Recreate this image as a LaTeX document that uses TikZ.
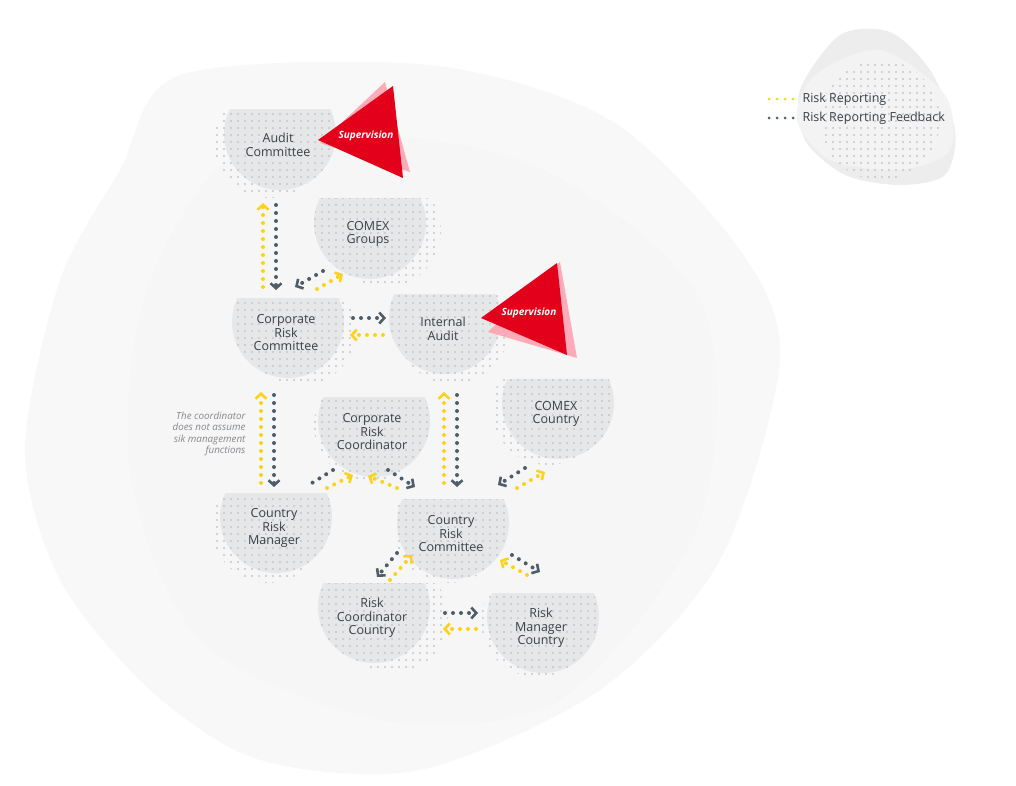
\documentclass[tikz,border=0pt]{standalone}
\usepackage{fontspec}
\setmainfont{Open Sans}
\usetikzlibrary{calc,arrows.meta,patterns.meta}

\definecolor{unitgray}{HTML}{E6E7E9}
\definecolor{dotgray}{HTML}{C4C7CB}
\definecolor{blobgray}{HTML}{F8F8F9}
\definecolor{blobgraydark}{HTML}{F3F3F4}
\definecolor{legendgray}{HTML}{EDEDEE}
\definecolor{repyellow}{HTML}{FFD21A}
\definecolor{feedgray}{HTML}{4E5D69}
\definecolor{textgray}{HTML}{3A4046}
\definecolor{notegray}{HTML}{84878A}
\definecolor{supred}{HTML}{E2001A}
\definecolor{suppink}{HTML}{FF9FAD}

% Risk unit: name, centre, shift of the dots, text
\newcommand{\riskunit}[4]{%
  \begin{scope}
    \clip ($(#2)+(-90,-24)$) rectangle ($(#2)+(90,90)$);
    \fill[dots] ($(#2)+(#3)$) circle (56);
    \fill[unitgray] (#2) circle (56);
    \fill[dots] (#2) circle (56);
  \end{scope}
  \node[unit] (#1) at (#2) {};
  \node[unittext] (#1-text) at ($(#1)+(-2,11)$) {#4};
}

\begin{document}
\begin{tikzpicture}[
x=1pt,y=-1pt,
dots/.style={pattern={Dots[distance=7pt,radius=1.2pt]},pattern color=dotgray},
unit/.style={circle,minimum size=112pt,inner sep=0pt},
unittext/.style={align=center,text=textgray,font=\fontsize{12.5}{13.5}\selectfont},
suptext/.style={text=white,font=\fontsize{10}{12}\selectfont\bfseries\itshape},
legendtext/.style={anchor=west,text=textgray,font=\fontsize{12.5}{14}\selectfont},
note/.style={anchor=east,align=right,text=notegray,font=\fontsize{9.8}{11.2}\selectfont\itshape},
rep/.style={draw=repyellow,line width=4pt,line cap=round,dash pattern=on 0pt off 8pt,-{Straight Barb[length=5pt,width=11pt,line width=2.6pt]}},
feed/.style={rep,draw=feedgray}
]

\useasboundingbox (0,0) rectangle (1016,786);

% Background blobs
\fill[blobgray] plot[smooth cycle] coordinates {(180,75) (430,65) (610,120) (740,250) (780,360) (720,560) (600,690) (420,770) (260,760) (150,690) (60,580) (25,450) (60,280) (120,170)};
\fill[blobgraydark,opacity=0.4] plot[smooth cycle] coordinates {(260,140) (520,160) (700,300) (700,520) (560,700) (380,720) (200,640) (130,470) (150,280)};
\fill[legendgray] plot[smooth cycle] coordinates {(840,35) (890,32) (930,70) (955,130) (945,175) (900,185) (845,175) (805,140) (800,90)};
\fill[blobgraydark] plot[smooth cycle] coordinates {(815,75) (880,50) (945,95) (950,150) (900,170) (830,160) (797,120)};
\begin{scope}
  \clip plot[smooth cycle] coordinates {(840,35) (890,32) (930,70) (955,130) (945,175) (900,185) (845,175) (805,140) (800,90)};
  \fill[dots] (880,120) circle (60);
\end{scope}

% Draw units
\riskunit{ac}{280,134}{-10,8}{Audit\\Committee}
\riskunit{cg}{370,223}{15,8}{COMEX\\Groups}
\riskunit{crc}{288,322}{12,8}{Corporate\\Risk\\Committee}
\riskunit{ia}{445,318}{8,10}{Internal\\Audit}
\riskunit{crco}{374,421}{-4,4}{Corporate\\Risk\\Coordinator}
\riskunit{cc}{558,403}{-10,6}{COMEX\\Country}
\riskunit{crm}{276,517}{-8,10}{Country\\Risk\\Manager}
\riskunit{crcm}{453,523}{-4,4}{Country\\Risk\\Committee}
\riskunit{rcc}{374,607}{18,10}{Risk\\Coordinator\\Country}
\riskunit{rmc}{543,617}{-6,4}{Risk\\Manager\\Country}

% Supervision
\fill[suppink,opacity=0.85] (320,143) -- (385,82) -- (410,172) -- cycle;
\fill[supred] (318,140) -- (393,86) -- (403,178) -- cycle;
\node[suptext] (sup-ac) at (366,136) {Supervision};
\fill[suppink,opacity=0.85] (488,332) -- (560,262) -- (577,358) -- cycle;
\fill[supred] (481,318) -- (557,263) -- (567,355) -- cycle;
\node[suptext] (sup-ia) at (529,313) {Supervision};

% Draw connectors
\draw[rep] ($(crc)+(-25,-35)$) -- ($(ac)+(-17,69)$);
\draw[feed] ($(ac)+(-4,71)$) -- ($(crc)+(-12,-32)$);

\draw[feed] ($(cg)+(-47,48)$) -- ($(crc)+(7,-35)$);
\draw[rep] ($(crc)+(29,-33)$) -- ($(cg)+(-27,51)$);

\draw[feed] ($(crc)+(65,-4)$) -- ($(ia)+(-59,0)$);
\draw[rep] ($(ia)+(-62,17)$) -- ($(crc)+(62,13)$);

\draw[rep] ($(crm)+(-15,-34)$) -- ($(crc)+(-27,70)$);
\draw[feed] ($(crc)+(-14,73)$) -- ($(crm)+(-2,-30)$);

\draw[rep] ($(crcm)+(-9,-40)$) -- ($(ia)+(-1,74)$);
\draw[feed] ($(ia)+(12,77)$) -- ($(crcm)+(4,-36)$);

\draw[feed,-] ($(crco)+(-41,49)$) -- ($(crm)+(36,-34)$);
\draw[rep] ($(crm)+(51,-29)$) -- ($(crco)+(-21,54)$);

\draw[rep] ($(crcm)+(-56,-35)$) -- ($(crco)+(-6,55)$);
\draw[feed] ($(crco)+(14,49)$) -- ($(crcm)+(-38,-36)$);

\draw[feed] ($(cc)+(-33,65)$) -- ($(crcm)+(45,-38)$);
\draw[rep] ($(crcm)+(64,-35)$) -- ($(cc)+(-13,69)$);

\draw[feed] ($(crcm)+(-56,30)$) -- ($(rcc)+(3,-30)$);
\draw[rep] ($(rcc)+(16,-27)$) -- ($(crcm)+(-41,32)$);

\draw[feed] ($(crcm)+(59,32)$) -- ($(rmc)+(-3,-45)$);
\draw[rep] ($(rmc)+(-16,-42)$) -- ($(crcm)+(47,37)$);

\draw[feed] ($(rcc)+(71,6)$) -- ($(rmc)+(-65,-4)$);
\draw[rep] ($(rmc)+(-67,12)$) -- ($(rcc)+(69,22)$);

% Note
\node[note] (note) at (249,434) {The coordinator\\does not assume\\sik management\\functions};

% Legend
\node[legendtext] (leg-rep) at (799,99) {Risk Reporting};
\node[legendtext] (leg-feed) at (799,118) {Risk Reporting Feedback};
\draw[rep,-,line width=3pt] ($(leg-rep.west)+(-30,0)$) -- ($(leg-rep.west)+(-6,0)$);
\draw[feed,-,line width=3pt] ($(leg-feed.west)+(-30,0)$) -- ($(leg-feed.west)+(-6,0)$);

\end{tikzpicture}
\end{document}
